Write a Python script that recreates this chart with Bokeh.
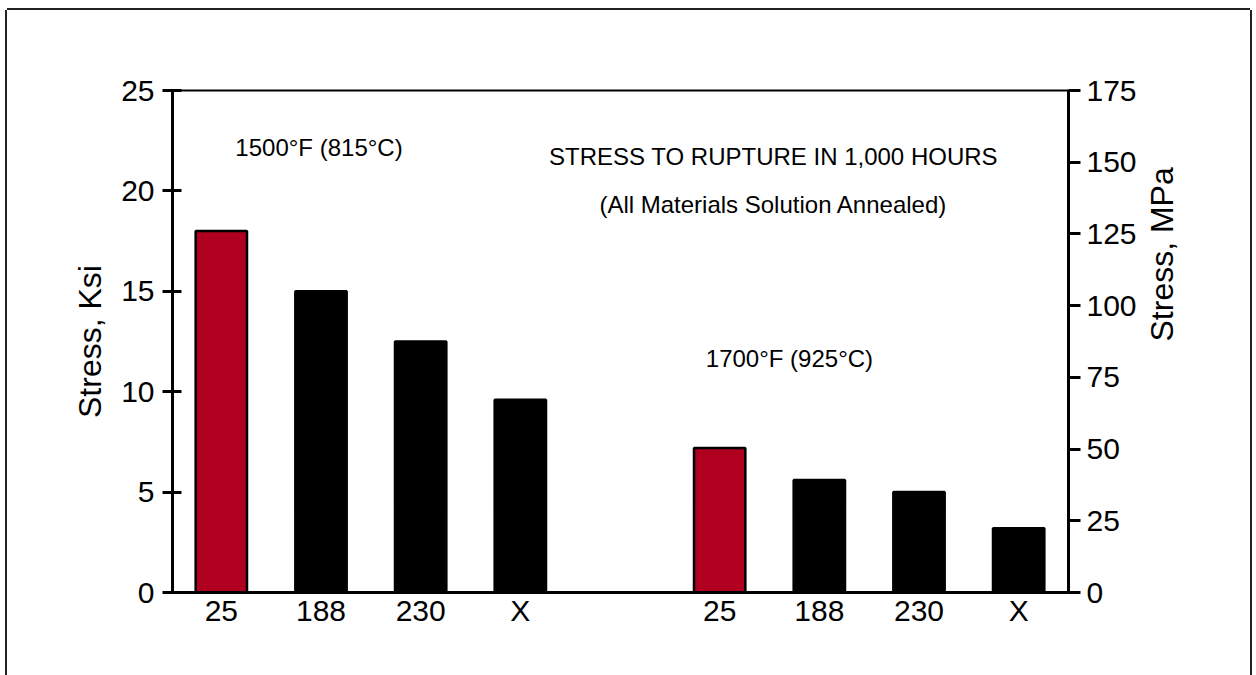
import math
from bokeh.plotting import figure
from bokeh.models import Range1d, LinearAxis, FixedTicker, Label, ColumnDataSource
from bokeh.embed import file_html
from bokeh.resources import INLINE

# ---- data ----
materials = ["25", "188", "230", "X"]
stress_1500F_ksi = [18.0, 15.0, 12.5, 9.6]
stress_1700F_ksi = [7.2, 5.6, 5.0, 3.2]
bar_colors = ["#B00020", "black", "black", "black"]
ksi_ticks = [0, 5, 10, 15, 20, 25]
mpa_ticks = [0, 25, 50, 75, 100, 125, 150, 175]

FONT = "Liberation Sans"
n = len(materials)
x_1500 = list(range(n))
x_1700 = [i + n + 1 for i in range(n)]
xs = x_1500 + x_1700

src = ColumnDataSource(dict(
    x=xs,
    top=stress_1500F_ksi + stress_1700F_ksi,
    color=bar_colors * 2,
))

p = figure(width=1243, height=665,
           x_range=Range1d(-0.49, 8.5), y_range=Range1d(0, 25),
           x_axis_location=None, y_axis_location=None,
           output_backend="svg", toolbar_location=None,
           min_border_left=165, min_border_right=182,
           min_border_top=80, min_border_bottom=83)
p.margin = (10, 0, 0, 7)
p.extra_y_ranges = {"mpa": Range1d(0, 175)}
p.outline_line_color = "black"
p.outline_line_width = 2
p.background_fill_color = "white"
p.border_fill_color = "white"
p.grid.visible = False
p.xgrid.grid_line_color = None
p.ygrid.grid_line_color = None
p.styles = {"box-shadow": "-2px 0 0 0 #222, 2px 0 0 0 #222, 0 -2px 0 0 #222"}

p.vbar(x="x", top="top", width=0.515, bottom=0, fill_color="color",
       line_color="black", line_width=2.5, source=src)

# bottom axis (category labels)
xaxis = LinearAxis(ticker=FixedTicker(ticks=xs),
                   major_label_overrides={x: m for x, m in zip(xs, materials * 2)})
xaxis.major_tick_in = 0
xaxis.major_tick_out = 0
xaxis.minor_tick_line_color = None
xaxis.axis_line_width = 3
xaxis.major_label_standoff = 1
xaxis.major_label_text_font = FONT
xaxis.major_label_text_font_size = "30px"
xaxis.major_label_text_color = "black"
p.add_layout(xaxis, "below")

# left axis (Ksi)
yl = LinearAxis(ticker=FixedTicker(ticks=ksi_ticks), axis_label="Stress, Ksi")
yl.major_tick_in = 9
yl.major_tick_out = 10
yl.major_tick_line_width = 3
yl.axis_line_width = 3
yl.minor_tick_line_color = None
yl.major_label_standoff = 8
yl.major_label_text_font = FONT
yl.major_label_text_font_size = "30px"
yl.major_label_text_color = "black"
yl.axis_label_text_font = FONT
yl.axis_label_text_font_size = "32px"
yl.axis_label_text_font_style = "normal"
yl.axis_label_text_color = "black"
yl.axis_label_standoff = 10
p.add_layout(yl, "left")

# right axis (MPa)
yr = LinearAxis(y_range_name="mpa", ticker=FixedTicker(ticks=mpa_ticks), axis_label="Stress, MPa")
yr.major_tick_in = 0
yr.major_tick_out = 12
yr.major_tick_line_width = 3
yr.axis_line_width = 3
yr.minor_tick_line_color = None
yr.major_label_standoff = 6
yr.major_label_text_font = FONT
yr.major_label_text_font_size = "30px"
yr.major_label_text_color = "black"
yr.axis_label_text_font = FONT
yr.axis_label_text_font_size = "32px"
yr.axis_label_text_font_style = "normal"
yr.axis_label_text_color = "black"
yr.axis_label_standoff = 22
try:
    yr.axis_label_orientation = math.pi / 2
except Exception:
    pass
p.add_layout(yr, "right")

labels = [
    ("1500\u00b0F (815\u00b0C)", 0.98, 22.15),
    ("STRESS TO RUPTURE IN 1,000 HOURS", 5.54, 21.7),
    ("(All Materials Solution Annealed)", 5.54, 19.3),
    ("1700\u00b0F (925\u00b0C)", 5.70, 11.65),
]
for txt, lx, ly in labels:
    p.add_layout(Label(x=lx, y=ly, text=txt, text_font=FONT, text_font_size="24px",
                       text_align="center", text_baseline="middle", text_color="black"))

open("out.html", "w").write(file_html(p, INLINE))
